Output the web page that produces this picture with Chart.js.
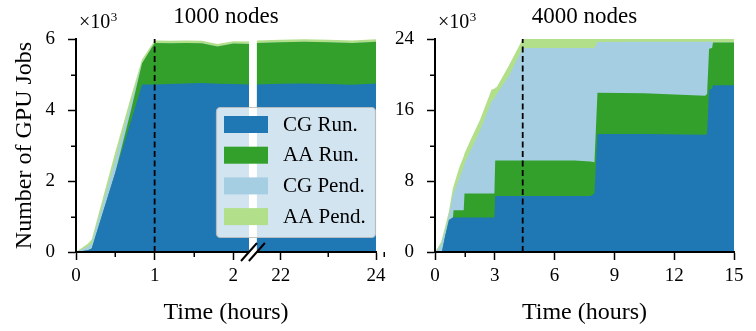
<!DOCTYPE html>
<html>
<head>
<meta charset="utf-8">
<script src="https://cdn.jsdelivr.net/npm/chart.js@4.4.1/dist/chart.umd.min.js"></script>
<style>
  html, body { margin: 0; padding: 0; background: #fff; }
  #wrap { position: relative; width: 756px; height: 331px; overflow: hidden; }
  #left { position: absolute; left: 0; top: 0; width: 400px; height: 331px; }
  #right { position: absolute; left: 370px; top: 0; width: 386px; height: 331px; }
</style>
</head>
<body>
<div id="wrap">
  <canvas id="left" width="400" height="331"></canvas>
  <canvas id="right" width="386" height="331"></canvas>
</div>
<script>
// --- data (job counts in thousands) ---
const seriesLabels = ["CG Run.", "AA Run.", "CG Pend.", "AA Pend."];
const seriesColors = ["#1f77b4", "#33a02c", "#a6cee3", "#b2df8a"];

// 1000 nodes (hours, axis is broken between 2.2 and 21.5)
const hours1000 = [0, 0.15, 0.2, 0.5, 0.7, 0.84, 1.0, 1.2, 1.4, 1.6, 1.8, 2.0, 2.2, 21.5, 22, 22.5, 23, 23.5, 24];
const cgRun1000 = [0, 0.05, 0.1, 2.24, 3.7, 4.72, 4.72, 4.73, 4.75, 4.76, 4.74, 4.73, 4.72, 4.72, 4.74, 4.75, 4.73, 4.71, 4.75];
const aaRun1000 = [0, 0, 0, 0, 0.3, 0.6, 1.17, 1.15, 1.14, 1.12, 1.05, 1.14, 1.14, 1.17, 1.17, 1.17, 1.18, 1.18, 1.17];
const cgPend1000 = [0, 0.1, 0.15, 0.35, 0.2, 0, 0, 0, 0, 0, 0, 0, 0, 0, 0, 0, 0, 0, 0];
const aaPend1000 = [0, 0.08, 0.1, 0.23, 0.18, 0.1, 0.07, 0.07, 0.07, 0.07, 0.07, 0.07, 0.07, 0.07, 0.07, 0.07, 0.07, 0.07, 0.07];
const xMajor1000 = [0, 1, 2, 22, 24];
const xMinor1000 = [0.5, 1.5, 23];
const yMajor1000 = [0, 2, 4, 6];
const yMinor1000 = [1, 3, 5];

// 4000 nodes
const hours4000 = [0, 0.15, 0.3, 0.35, 0.5, 0.7, 0.9, 0.93, 1.2, 1.44, 1.48, 1.8, 2.26, 2.84, 2.98, 3.02, 3.1, 3.7, 4.4, 5.5, 7.0, 7.8, 8.0, 8.15, 10.5, 13.55, 13.65, 13.75, 13.9, 13.95, 15];
const cgRun4000 = [0, 0, 0, 0.05, 1.7, 3.6, 3.9, 3.9, 3.9, 3.9, 3.9, 3.9, 3.9, 3.9, 3.9, 6.3, 6.3, 6.3, 6.3, 6.3, 6.3, 6.3, 6.6, 13.3, 13.3, 13.2, 13.3, 18.3, 18.4, 18.8, 18.8];
const aaRun4000 = [0, 0, 0, 0, 0, 0, 0, 0.8, 0.8, 0.8, 2.7, 2.7, 2.7, 2.7, 2.7, 4.0, 4.0, 4.0, 4.0, 4.0, 4.0, 3.9, 3.5, 4.65, 4.6, 4.4, 4.5, 4.6, 4.6, 4.8, 4.8];
const cgPend4000 = [0, 0.3, 0.8, 1.15, 0.6, 0.5, 2.5, 1.9, 3.5, 4.9, 3.4, 4.9, 7.1, 10.4, 10.7, 7.2, 7.5, 9.5, 12.7, 12.7, 12.7, 12.8, 12.9, 5.7, 5.8, 6.1, 5.9, 0.8, 0.7, 0, 0];
const aaPend4000 = [0, 0.2, 0.3, 0.3, 0.5, 0.5, 0.8, 0.8, 1.2, 1.2, 1.1, 1.2, 1.2, 1.3, 1.1, 1.0, 0.8, 1.2, 1.0, 1.0, 1.0, 1.0, 1.0, 0.35, 0.3, 0.3, 0.3, 0.3, 0.3, 0.4, 0.4];
const xMinor4000 = [1.5, 4.5, 7.5, 10.5, 13.5];
const yMinor4000 = [4, 12, 20];

// broken axis: hours after the break are squeezed onto the same scale
const BREAK_END = 2.2, RESUME_AT = 21.5, GAP_HOURS = 0.1, RESUME_SCALE = 0.606;
function mapT(h) {
  return h <= BREAK_END ? h : BREAK_END + GAP_HOURS + (h - RESUME_AT) * RESUME_SCALE;
}

Chart.defaults.font.family = "'Liberation Serif', 'Times New Roman', serif";
Chart.defaults.color = "#000";

const TICK_FONT = { size: 19 };

function makeSets(hours, lists, mapper) {
  return lists.map((vals, k) => ({
    label: seriesLabels[k],
    data: hours.map((h, i) => ({ x: mapper(h), y: vals[i] })),
    backgroundColor: seriesColors[k],
    borderColor: seriesColors[k],
    borderWidth: 0,
    pointRadius: 0,
    tension: 0,
    fill: "origin",
  }));
}

const decor = {
  id: "decor",
  afterDatasetsDraw(chart, args, o) {
    const { ctx, chartArea: a, scales: { x } } = chart;
    ctx.save();
    // white gap of the broken axis
    if (o.gap) {
      const g0 = x.getPixelForValue(mapT(o.gap[0]));
      const g1 = x.getPixelForValue(mapT(o.gap[1]));
      ctx.fillStyle = "#fff";
      ctx.fillRect(g0, a.top - 6, g1 - g0, a.bottom - a.top + 5);
    }
    // dashed marker
    const dx = x.getPixelForValue(o.dashAt);
    ctx.strokeStyle = "#000";
    ctx.lineWidth = 1.8;
    ctx.setLineDash([6, 3.5]);
    ctx.beginPath();
    ctx.moveTo(dx, a.bottom);
    ctx.lineTo(dx, a.top);
    ctx.stroke();
    ctx.setLineDash([]);
    // legend box
    if (o.legend) {
      const bx = a.right - 160, by = a.top + 68, bw = 160, bh = 131;
      ctx.fillStyle = "rgba(255,255,255,0.8)";
      ctx.strokeStyle = "rgba(190,190,190,0.9)";
      ctx.lineWidth = 1.2;
      ctx.beginPath();
      ctx.roundRect(bx + 0.5, by + 0.5, bw - 1, bh - 1, 4);
      ctx.fill();
      ctx.stroke();
      ctx.font = "21px 'Liberation Serif'";
      ctx.textBaseline = "middle";
      ctx.textAlign = "left";
      chart.data.datasets.forEach((ds, i) => {
        const ry = by + 9 + i * 30.7;
        ctx.fillStyle = ds.backgroundColor;
        ctx.fillRect(bx + 8, ry, 44, 17);
        ctx.fillStyle = "#000";
        ctx.fillText(ds.label, bx + 67, ry + 9);
      });
    }
    ctx.restore();
  },
  afterDraw(chart, args, o) {
    const { ctx, chartArea: a, scales: { x, y } } = chart;
    ctx.save();
    ctx.strokeStyle = "#000";
    ctx.lineWidth = 1.5;
    ctx.beginPath();
    o.minorX.forEach(v => {
      const px = Math.round(x.getPixelForValue(mapT(v))) + 0.25;
      ctx.moveTo(px, a.bottom);
      ctx.lineTo(px, a.bottom + 5);
    });
    o.minorY.forEach(v => {
      const py = Math.round(y.getPixelForValue(v)) + 0.25;
      ctx.moveTo(a.left, py);
      ctx.lineTo(a.left - 5, py);
    });
    ctx.stroke();
    // break marks on the x spine
    if (o.gap) {
      const g0 = x.getPixelForValue(mapT(o.gap[0]));
      const g1 = x.getPixelForValue(mapT(o.gap[1]));
      ctx.fillStyle = "#fff";
      ctx.fillRect(g0, a.bottom - 2, g1 - g0, 4);
      ctx.lineWidth = 2;
      ctx.beginPath();
      [g0, g1].forEach(g => {
        ctx.moveTo(g - 8, a.bottom + 9);
        ctx.lineTo(g + 8, a.bottom - 9);
      });
      ctx.stroke();
    }
    // title and multiplier
    ctx.fillStyle = "#000";
    ctx.textBaseline = "alphabetic";
    ctx.textAlign = "center";
    ctx.font = "23px 'Liberation Serif'";
    ctx.fillText(o.title, (a.left + a.right) / 2, 23);
    ctx.textAlign = "left";
    ctx.font = "20px 'Liberation Serif'";
    ctx.fillText("\u00d710", a.left + 3, 28);
    const w = ctx.measureText("\u00d710").width;
    ctx.font = "13px 'Liberation Serif'";
    ctx.fillText("3", a.left + 3 + w + 0.5, 20.5);
    ctx.restore();
  }
};

function axisX(extra) {
  return Object.assign({
    type: "linear",
    border: { display: true, color: "#000", width: 2, z: 1 },
    grid: { drawOnChartArea: false, drawTicks: true, tickLength: 8, tickWidth: 1.5, tickColor: "#000" },
    title: { display: true, text: "Time (hours)", font: { size: 24 }, padding: { top: 0, bottom: 4 } },
    afterFit(s) { s.height = 79; },
  }, extra);
}

function axisY(extra, yTitle, w) {
  return Object.assign({
    stacked: true,
    min: 0,
    border: { display: true, color: "#000", width: 2, z: 1 },
    grid: { drawOnChartArea: false, drawTicks: true, tickLength: 8, tickWidth: 1.5, tickColor: "#000" },
    title: { display: !!yTitle, text: yTitle || "", font: { size: 24 }, padding: { top: 10.6, bottom: 0 } },
    afterFit(s) { s.width = w; },
  }, extra);
}

new Chart(document.getElementById("left"), {
  type: "line",
  data: {
    datasets: makeSets(hours1000, [cgRun1000, aaRun1000, cgPend1000, aaPend1000], mapT),
  },
  options: {
    responsive: false,
    animation: false,
    layout: { padding: { top: 39, right: 24, left: 0, bottom: 0 } },
    scales: {
      x: axisX({
        min: 0,
        max: mapT(24),
        afterBuildTicks(s) { s.ticks = xMajor1000.map(v => ({ value: mapT(v) })); },
        ticks: { font: TICK_FONT, padding: 5, maxRotation: 0, autoSkip: false,
          callback: (v, i) => String(xMajor1000[i]) },
      }),
      y: axisY({
        max: 6,
        afterBuildTicks(s) { s.ticks = yMajor1000.map(v => ({ value: v })); },
        ticks: { font: TICK_FONT, padding: 13 },
      }, "Number of GPU Jobs", 76),
    },
    plugins: {
      legend: { display: false },
      tooltip: { enabled: false },
      decor: { title: "1000 nodes", dashAt: 1, gap: [BREAK_END, RESUME_AT], legend: true,
        minorX: xMinor1000, minorY: yMinor1000 },
    },
  },
  plugins: [decor],
});

new Chart(document.getElementById("right"), {
  type: "line",
  data: {
    datasets: makeSets(hours4000, [cgRun4000, aaRun4000, cgPend4000, aaPend4000], h => h),
  },
  options: {
    responsive: false,
    animation: false,
    layout: { padding: { top: 39, right: 22, left: 0, bottom: 0 } },
    scales: {
      x: axisX({ min: 0, max: 15,
        ticks: { font: TICK_FONT, padding: 5, maxRotation: 0, autoSkip: false, stepSize: 3 } }),
      y: axisY({ max: 24,
        ticks: { font: TICK_FONT, padding: 13, stepSize: 8 } }, null, 65),
    },
    plugins: {
      legend: { display: false },
      tooltip: { enabled: false },
      decor: { title: "4000 nodes", dashAt: 4.4, gap: null, legend: false,
        minorX: xMinor4000, minorY: yMinor4000 },
    },
  },
  plugins: [decor],
});
</script>
</body>
</html>
